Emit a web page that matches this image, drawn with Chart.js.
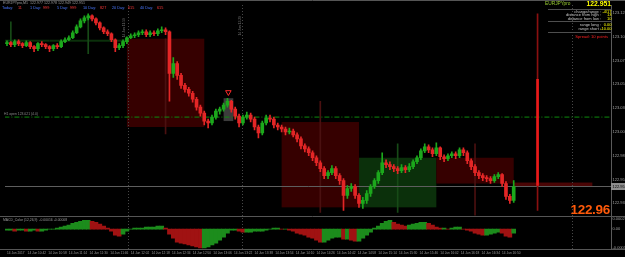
<!DOCTYPE html>
<html><head><meta charset="utf-8">
<script src="https://cdn.jsdelivr.net/npm/chart.js@4/dist/chart.umd.min.js"></script>
<style>
html,body{margin:0;padding:0;background:#000;overflow:hidden}
#wrap{position:relative;width:625px;height:257px;background:#000}
canvas{position:absolute;left:0;top:0}
.t{position:absolute;font-family:"Liberation Sans",Arial,sans-serif;white-space:nowrap;line-height:1}
.r{text-align:right}
.hr{position:absolute;height:0;border-top:1px solid #4e4e4e}
.v{writing-mode:vertical-rl;transform:rotate(180deg)}
</style></head><body>
<div id="wrap">
<canvas id="c" width="625" height="257"></canvas>
<div class="t" style="left:3px;top:1.5px;font-size:3.6px;color:#9a9a9a">EURJPYpro,M1 &nbsp;122.977 122.978 122.949 122.951</div>
<div class="t" style="left:2px;top:7px;font-size:3.8px;color:#4a78ff">Today:</div>
<div class="t" style="left:18px;top:7px;font-size:3.8px;color:#ff3a3a">11</div>
<div class="t" style="left:30px;top:7px;font-size:3.8px;color:#4a78ff">1 Day:</div>
<div class="t" style="left:43px;top:7px;font-size:3.8px;color:#ff3a3a">999</div>
<div class="t" style="left:57px;top:7px;font-size:3.8px;color:#4a78ff">5 Day:</div>
<div class="t" style="left:70px;top:7px;font-size:3.8px;color:#ff3a3a">999</div>
<div class="t" style="left:83px;top:7px;font-size:3.8px;color:#4a78ff">10 Day:</div>
<div class="t" style="left:100px;top:7px;font-size:3.8px;color:#ff3a3a">827</div>
<div class="t" style="left:112px;top:7px;font-size:3.8px;color:#4a78ff">20 Day:</div>
<div class="t" style="left:128px;top:7px;font-size:3.8px;color:#ff3a3a">615</div>
<div class="t" style="left:140px;top:7px;font-size:3.8px;color:#4a78ff">40 Day:</div>
<div class="t" style="left:157px;top:7px;font-size:3.8px;color:#ff3a3a">615</div>

<div class="t v" style="left:123px;top:18px;font-size:3.4px;color:#6a6a6a">14 Jun 11:59</div>
<div class="t v" style="left:239px;top:16px;font-size:3.4px;color:#6a6a6a">14 Jun 13:29</div>
<div class="t" style="left:4px;top:112.5px;font-size:3.4px;color:#8a8a8a">H1 open 123.021 (4.0)</div>
<div class="t" style="left:3px;top:218.5px;font-size:3.4px;color:#9a9a9a">MACD_Color (12,26,9) &nbsp;-0.00016 -0.00008</div>

<div class="t" style="left:545px;top:1.8px;font-size:4.8px;color:#9acd32">EURJPYpro</div>
<div class="t r" style="right:14px;top:1px;font-size:6.8px;font-weight:bold;color:#ffff00">122.951</div>
<div class="hr" style="left:548px;width:64px;top:8.5px"></div>
<div class="t r" style="right:24px;top:9.6px;font-size:4px;color:#c8c8c8">change/range :</div>
<div class="t r" style="right:13.5px;top:9.6px;font-size:4px;color:#ffff00">-4/17</div>
<div class="t r" style="right:24px;top:13.2px;font-size:4px;color:#c8c8c8">distance from high :</div>
<div class="t r" style="right:13.5px;top:13.2px;font-size:4px;color:#ffff00">13</div>
<div class="t r" style="right:24px;top:16.8px;font-size:4px;color:#c8c8c8">distance from low :</div>
<div class="t r" style="right:13.5px;top:16.8px;font-size:4px;color:#ffff00">10</div>
<div class="hr" style="left:548px;width:64px;top:21px"></div>
<div class="t r" style="right:24px;top:22.8px;font-size:4px;color:#c8c8c8">range long :</div>
<div class="t r" style="right:13.5px;top:22.8px;font-size:4px;color:#ffff00">0.00</div>
<div class="t r" style="right:24px;top:26.6px;font-size:4px;color:#c8c8c8">range short :</div>
<div class="t r" style="right:13.5px;top:26.6px;font-size:4px;color:#ffff00">-10.00</div>
<div class="hr" style="left:548px;width:64px;top:32px"></div>
<div class="t r" style="right:17px;top:34.5px;font-size:4.2px;color:#ff2020">Spread: 10 points</div>
<div class="t r" style="right:15px;top:203px;font-size:13.5px;font-weight:bold;color:#ff5a0a;letter-spacing:-0.3px">122.96</div>
</div>
<script>
// ---- data (EURJPY M1, 14 Jun 2017, aggregated to 3-minute candles) ----
const candleStep = 3; // minutes per candle
const firstOpen = 123.095;
const close = [123.096,123.094,123.097,123.095,123.093,123.096,123.092,123.090,123.095,123.094,
123.092,123.090,123.093,123.092,123.097,123.099,123.101,123.106,123.112,123.118,
123.121,123.123,123.120,123.116,123.111,123.107,123.105,123.099,123.091,123.093,
123.097,123.101,123.103,123.104,123.106,123.107,123.104,123.106,123.105,123.108,
123.109,123.107,123.065,123.075,123.063,123.053,123.049,123.045,123.039,123.031,
123.025,123.017,123.015,123.021,123.027,123.029,123.033,123.037,123.029,123.022,
123.015,123.021,123.023,123.019,123.011,123.005,123.015,123.020,123.019,123.013,
123.011,123.009,123.006,123.007,123.003,122.999,122.992,122.989,122.985,122.980,
122.975,122.969,122.962,122.965,122.969,122.962,122.957,122.942,122.949,122.951,
122.942,122.934,122.937,122.944,122.951,122.957,122.965,122.975,122.973,122.971,
122.969,122.967,122.970,122.968,122.971,122.976,122.980,122.987,122.991,122.988,
122.984,122.990,122.981,122.979,122.982,122.984,122.982,122.988,122.985,122.977,
122.971,122.965,122.962,122.960,122.959,122.957,122.961,122.963,122.954,122.941,
122.937,122.951];
const high = [123.098,123.097,123.099,123.099,123.096,123.098,123.097,123.093,123.096,123.097,
123.095,123.093,123.094,123.095,123.099,123.101,123.103,123.108,123.114,123.120,
123.123,123.125,123.124,123.121,123.117,123.112,123.109,123.106,123.100,123.095,
123.099,123.102,123.105,123.106,123.108,123.109,123.109,123.108,123.108,123.110,
123.112,123.111,123.108,123.081,123.077,123.065,123.055,123.051,123.047,123.041,
123.033,123.027,123.019,123.023,123.029,123.031,123.035,123.040,123.038,123.031,
123.024,123.023,123.026,123.025,123.021,123.013,123.017,123.023,123.023,123.021,
123.015,123.013,123.011,123.010,123.009,123.005,123.001,122.994,122.991,122.987,
122.982,122.977,122.971,122.967,122.972,122.971,122.964,122.959,122.952,122.954,
122.953,122.944,122.940,122.947,122.953,122.959,122.967,122.985,122.978,122.976,
122.973,122.971,122.973,122.972,122.974,122.978,122.982,122.989,122.994,122.993,
122.990,122.995,122.991,122.983,122.984,122.986,122.986,122.990,122.990,122.987,
122.979,122.973,122.967,122.964,122.962,122.961,122.963,122.965,122.964,122.956,
122.943,122.957];
const low = [123.093,123.092,123.092,123.093,123.091,123.092,123.090,123.087,123.088,123.092,
123.090,123.087,123.088,123.090,123.091,123.096,123.098,123.100,123.105,123.111,
123.116,123.119,123.118,123.114,123.109,123.105,123.103,123.097,123.087,123.089,
123.091,123.095,123.100,123.101,123.102,123.104,123.102,123.102,123.103,123.103,
123.106,123.104,123.037,123.061,123.059,123.050,123.046,123.042,123.036,123.028,
123.022,123.013,123.010,123.013,123.019,123.024,123.027,123.031,123.026,123.019,
123.011,123.013,123.019,123.016,123.008,123.000,123.003,123.013,123.016,123.010,
123.008,123.006,123.003,123.004,123.001,122.996,122.989,122.986,122.982,122.977,
122.972,122.966,122.959,122.959,122.963,122.959,122.953,122.927,122.939,122.946,
122.939,122.930,122.929,122.934,122.941,122.949,122.954,122.963,122.970,122.968,
122.966,122.964,122.965,122.965,122.966,122.969,122.974,122.978,122.985,122.985,
122.981,122.982,122.978,122.976,122.977,122.980,122.979,122.980,122.982,122.974,
122.968,122.962,122.959,122.957,122.956,122.954,122.955,122.959,122.951,122.938,
122.934,122.935];
const macd = [-0.00002,-0.00002,-0.00004,-0.00002,-0.00002,-0.00004,-0.00004,-0.00002,-0.00004,-0.00004,
-0.00002,0,0,0.00002,0.00004,0.00006,0.00008,0.00012,0.00014,0.00016,
0.00018,0.00018,0.00016,0.00014,0.0001,0.00006,0.00002,-0.00004,-0.00012,-0.00014,
-0.0001,-0.00004,0,0.00002,0.00002,0.00002,0.00004,0.00004,0.00004,0.00006,
0.00006,0.00002,-0.0001,-0.00018,-0.00026,-0.00028,-0.0003,-0.00032,-0.00034,-0.00036,
-0.00038,-0.00038,-0.00036,-0.00032,-0.00028,-0.00022,-0.00016,-0.00008,-0.00002,-0.00002,
-0.00004,-0.00006,-0.00006,-0.00006,-0.00004,-0.00004,-0.00004,-0.00002,0,0.00002,
0.00002,0,0,-0.00002,-0.00004,-0.00008,-0.0001,-0.00012,-0.00016,-0.00018,
-0.00022,-0.00026,-0.00026,-0.00022,-0.00018,-0.00016,-0.00016,-0.0002,-0.0002,-0.00022,
-0.00024,-0.00024,-0.00018,-0.00012,-0.00006,0.00002,0.00006,0.00012,0.00016,0.00018,
0.00014,0.0001,0.00008,0.00006,0.00008,0.0001,0.00012,0.00014,0.00014,0.00012,
0.00008,0.00004,0.00002,0.00002,0,0.00002,0.00004,0.00004,0,-0.00002,
-0.00004,-0.00008,-0.0001,-0.00012,-0.00012,-0.0001,-0.00008,-0.00006,-0.00008,-0.00014,
-0.00016,-0.00008];

// hourly range boxes (minutes from 10:26, prices)
const zoneStart  = [-27, 33, 93, 213, 273, 333, 393];
const zoneEnd    = [33, 93, 153, 273, 333, 393, 454];
const zoneTop    = [123.099, 123.099, 123.100, 123.016, 122.980, 122.980, 122.955];
const zoneBottom = [123.097, 123.097, 123.011, 122.930, 122.930, 122.954, 122.951];
const zoneKind   = ['bull','bull','bear','bear','bull','bear','bear'];
const midTime = [3, 63, 123, 243, 303, 363];
const midHigh = [123.117, 123.124, 123.100, 123.037, 122.994, 122.994];
const midLow  = [123.094, 123.085, 123.004, 122.925, 122.925, 122.922];
const midKind = ['bull','bull','bear','bear','bull','bear'];
const markStart = [168], markEnd = [175.5], markTop = [123.040], markBottom = [123.017];
const arrowTime = [171.7], arrowPrice = [123.046];
const spikeTime = [411.5], spikeHigh = [123.125], spikeLow = [122.927], spikeOpen = [123.059], spikeClose = [122.952];
const levelPrice = 123.021;
const bidPrice = 122.951;
const vMarks = [93.5, 182.5, 438];

const priceTicks = [122.934,122.946,122.958,122.970,122.982,122.994,123.006,123.018,123.030,123.042,123.054,123.066,123.078,123.090,123.102,123.114,123.126];
const macdTicks = [0.0002, 0, -0.00038];
const macdTickLabels = ['0.0002', '0.00', '-0.00038'];
const tickMinutes = [0,16,32,48,64,80,96,112,128,144,160,176,192,208,224,240,256,272,288,304,320,336,352,368,384];
const timeLabels = ['14 Jun 2017','14 Jun 10:42','14 Jun 10:58','14 Jun 11:14','14 Jun 11:30','14 Jun 11:46','14 Jun 12:02','14 Jun 12:18','14 Jun 12:34','14 Jun 12:50','14 Jun 13:06','14 Jun 13:22','14 Jun 13:38','14 Jun 13:54','14 Jun 14:10','14 Jun 14:26','14 Jun 14:42','14 Jun 14:58','14 Jun 15:14','14 Jun 15:30','14 Jun 15:46','14 Jun 16:02','14 Jun 16:18','14 Jun 16:34','14 Jun 16:50'];

// ---- styles ----
const BULL = '#1ca81c', BEAR = '#e32626';
const opens = close.map((c, i) => i ? close[i - 1] : firstOpen);
const candleCol = close.map((c, i) => c >= opens[i] ? BULL : BEAR);
const macdCol = macd.map((v, i) => (i === 0 || v >= macd[i - 1]) ? '#1c8c1c' : '#a01212');
const tX = i => i * candleStep;

const panelPlugin = {
  id: 'panel',
  beforeDatasetsDraw(chart) {
    const {ctx, chartArea: a, scales: {x, y}} = chart;
    ctx.save();
    ctx.beginPath(); ctx.rect(a.left, y.top, a.right - a.left, y.bottom - y.top); ctx.clip();
    zoneStart.forEach((s, i) => {
      const x1 = x.getPixelForValue(s), x2 = x.getPixelForValue(zoneEnd[i]);
      const y1 = y.getPixelForValue(zoneTop[i]), y2 = y.getPixelForValue(zoneBottom[i]);
      ctx.fillStyle = zoneKind[i] === 'bull' ? '#0b300b' : (i === 6 ? '#4a0505' : '#360000');
      ctx.fillRect(x1, y1, x2 - x1, Math.max(y2 - y1, 2));
    });
    markStart.forEach((s, i) => {
      const x1 = x.getPixelForValue(s), x2 = x.getPixelForValue(markEnd[i]);
      const y1 = y.getPixelForValue(markTop[i]), y2 = y.getPixelForValue(markBottom[i]);
      ctx.fillStyle = '#3c3c3c';
      ctx.fillRect(x1, y1, x2 - x1, y2 - y1);
    });
    ctx.restore();
    ctx.save();
    ctx.strokeStyle = '#474747'; ctx.lineWidth = 1; ctx.setLineDash([1, 2]);
    vMarks.forEach(t => {
      const px = Math.round(x.getPixelForValue(t)) + 0.5;
      ctx.beginPath(); ctx.moveTo(px, a.top); ctx.lineTo(px, a.bottom); ctx.stroke();
    });
    ctx.restore();
  },
  afterDraw(chart) {
    const {ctx, chartArea: a, scales: {y, y2}} = chart;
    ctx.save();
    ctx.strokeStyle = '#555'; ctx.lineWidth = 1;
    [0.5, Math.round(y2.top) + 0.5, Math.round(a.bottom) + 0.5].forEach(py => {
      ctx.beginPath(); ctx.moveTo(0, py); ctx.lineTo(625, py); ctx.stroke();
    });
    const py = y.getPixelForValue(bidPrice);
    ctx.fillStyle = '#8e8e8e';
    ctx.fillRect(a.right, py - 3.5, 625 - a.right, 7);
    ctx.fillStyle = '#000'; ctx.font = '4px "Liberation Sans"'; ctx.textBaseline = 'middle';
    ctx.fillText(bidPrice.toFixed(3), a.right + 1.5, py);
    ctx.restore();
  }
};

const tickFont = {family: '"Liberation Sans", Arial, sans-serif', size: 4};
const timeFont = {family: '"Liberation Sans", Arial, sans-serif', size: 3.2};
new Chart(document.getElementById('c'), {
  type: 'bar',
  data: {
    datasets: [
      {label: 'bodies', data: close.map((c, i) => ({x: tX(i), y: [opens[i], c]})), backgroundColor: candleCol,
       barThickness: 3, minBarLength: 1, grouped: false, order: 0, yAxisID: 'y'},
      {label: 'wicks', data: close.map((c, i) => ({x: tX(i), y: [low[i], high[i]]})), backgroundColor: candleCol,
       barThickness: 1, grouped: false, order: 1, yAxisID: 'y'},
      {label: 'spikeBody', data: spikeTime.map((t, i) => ({x: t, y: [spikeOpen[i], spikeClose[i]]})), backgroundColor: '#e81a1a',
       barThickness: 2, grouped: false, order: 0, yAxisID: 'y'},
      {label: 'spikeWick', data: spikeTime.map((t, i) => ({x: t, y: [spikeLow[i], spikeHigh[i]]})), backgroundColor: '#8a1010',
       barThickness: 1, grouped: false, order: 1, yAxisID: 'y'},
      {label: 'mid', data: midTime.map((t, i) => ({x: t, y: [midLow[i], midHigh[i]]})),
       backgroundColor: midKind.map(k => k === 'bull' ? '#174a17' : '#4a1010'),
       barThickness: 1, grouped: false, order: 5, yAxisID: 'y'},
      {type: 'line', label: 'level', data: [{x: -2, y: levelPrice}, {x: 470, y: levelPrice}], borderColor: '#0e8a0e',
       borderWidth: 1, borderDash: [5, 2, 1, 2], pointRadius: 0, order: 4, yAxisID: 'y'},
      {type: 'line', label: 'bid', data: [{x: -2, y: bidPrice}, {x: 470, y: bidPrice}], borderColor: '#5e5e5e',
       borderWidth: 1, pointRadius: 0, order: 4, yAxisID: 'y'},
      {type: 'scatter', label: 'arrow', data: arrowTime.map((t, i) => ({x: t, y: arrowPrice[i]})),
       pointStyle: 'triangle', rotation: 180, radius: 3.2, borderColor: '#ff2a2a', backgroundColor: 'rgba(0,0,0,0)',
       borderWidth: 1, order: 0, yAxisID: 'y'},
      {label: 'macd', data: macd.map((v, i) => ({x: tX(i), y: v})), backgroundColor: macdCol,
       barThickness: 4, grouped: false, order: 2, yAxisID: 'y2'}
    ]
  },
  options: {
    responsive: false, animation: false, devicePixelRatio: 1,
    layout: {padding: {top: 3, left: 0, right: 0, bottom: 0}},
    plugins: {legend: {display: false}, tooltip: {enabled: false}},
    scales: {
      x: {type: 'linear', min: -1.54, max: 468.46, offset: false, position: 'bottom',
          grid: {display: false, offset: false, drawTicks: false}, border: {display: false},
          afterBuildTicks: s => { s.ticks = tickMinutes.map(v => ({value: v})); },
          afterFit: s => { s.height = 8; },
          ticks: {autoSkip: false, maxRotation: 0, minRotation: 0, align: 'start', padding: 2.5, color: '#9a9a9a', font: timeFont,
                  callback: v => timeLabels[tickMinutes.indexOf(v)] ?? ''}},
      y: {type: 'linear', position: 'right', stack: 'p', stackWeight: 213, min: 122.921, max: 123.134,
          grid: {display: false, drawTicks: false}, border: {display: true, color: '#5a5a5a'},
          afterBuildTicks: s => { s.ticks = priceTicks.map(v => ({value: v})); },
          afterFit: s => { s.width = 14; },
          ticks: {padding: 1.5, color: '#a0a0a0', font: tickFont, callback: v => v.toFixed(3)}},
      y2: {type: 'linear', position: 'right', stack: 'p', stackWeight: 33, min: -0.0004, max: 0.00026,
          grid: {display: false, drawTicks: false}, border: {display: true, color: '#5a5a5a'},
          afterBuildTicks: s => { s.ticks = macdTicks.map(v => ({value: v})); },
          afterFit: s => { s.width = 14; },
          ticks: {padding: 1.5, color: '#a0a0a0', font: tickFont, callback: v => macdTickLabels[macdTicks.indexOf(v)] ?? ''}}
    }
  },
  plugins: [panelPlugin]
});
</script>
</body></html>
